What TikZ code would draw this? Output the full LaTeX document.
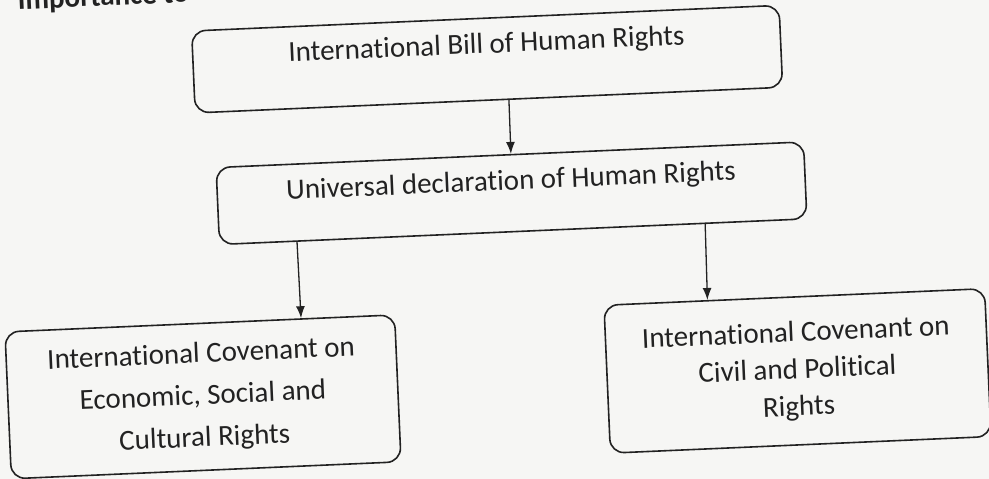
\documentclass[tikz,border=0pt]{standalone}
\usepackage{fontspec}
\setmainfont{Carlito}[Ligatures=NoCommon]
\usetikzlibrary{calc,arrows.meta}
\definecolor{paper}{HTML}{F6F6F4}
\definecolor{ink}{HTML}{222222}
\tikzset{
  box/.style={draw=ink, line width=1.6pt, rounded corners=14pt, inner xsep=0pt, inner ysep=0pt,
    text=ink, font=\fontsize{29pt}{35pt}\selectfont, align=center},
  flow/.style={draw=ink, line width=1.3pt, -{Latex[length=12pt,width=9pt]}}
}
\begin{document}
\begin{tikzpicture}[x=1pt,y=1pt]
\useasboundingbox (0,0) rectangle (989,479);
\fill[paper] (0,0) rectangle (989,479);
\begin{scope}[rotate around={2.5:(494.5,239.5)}, transform shape]
\node[anchor=base west, text=ink, font=\fontsize{29pt}{35pt}\selectfont\bfseries] (head) at (25,490) {Importance to};
\node[box, minimum width=588pt, text height=35pt, text depth=47pt] (b1) at (495,420) {International Bill of Human Rights};
\node[box, minimum width=588pt, text height=35pt, text depth=42pt] (b2) at (513.5,285) {Universal declaration of Human Rights};
\node[box, minimum width=390pt, minimum height=147pt, font=\fontsize{29pt}{42pt}\selectfont] (b3) at (196.4,95) {International Covenant on\\Economic, Social and\\Cultural Rights};
\node[box, minimum width=381pt, minimum height=148pt, font=\fontsize{29pt}{37pt}\selectfont] (b4) at (791.5,95) {International Covenant on\\Civil and Political\\Rights};
\draw[flow] ($(b1.south west)!0.534!(b1.south east)$) -- ($(b2.north west)!0.502!(b2.north east)$);
\draw[flow] ($(b2.south west)!0.133!(b2.south east)$) -- ($(b3.north west)!0.759!(b3.north east)$);
\draw[flow] ($(b2.south west)!0.826!(b2.south east)$) -- ($(b4.north west)!0.273!(b4.north east)$);
\end{scope}
\end{tikzpicture}
\end{document}
